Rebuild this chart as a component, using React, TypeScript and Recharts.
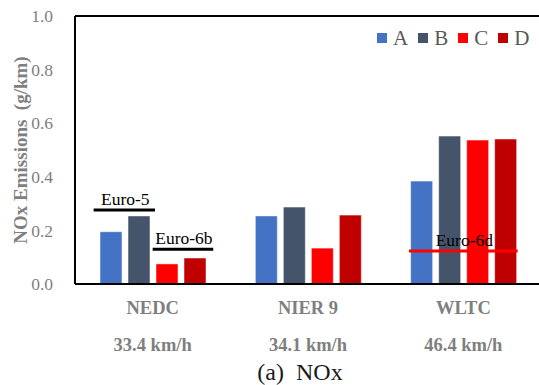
import React from 'react';
import {
  BarChart,
  Bar,
  XAxis,
  YAxis,
  ReferenceLine,
  Legend,
  Label,
} from 'recharts';

// Driving cycles and their average speeds
const cycles = ['NEDC', 'NIER 9', 'WLTC'];
const speeds = ['33.4 km/h', '34.1 km/h', '46.4 km/h'];

// NOx emissions (g/km) per vehicle
const vehicleA = [0.195, 0.254, 0.384];
const vehicleB = [0.254, 0.287, 0.552];
const vehicleC = [0.075, 0.134, 0.537];
const vehicleD = [0.097, 0.257, 0.541];

const yTicks = [0, 0.2, 0.4, 0.6, 0.8, 1.0];

// Emission standard limits: value and extent along the cycle axis (cycle index units)
const limitNames = ['Euro-5', 'Euro-6b', 'Euro-6d'];
const limitValues = [0.276, 0.13, 0.123];
const limitFrom = [0.12, 0.5, 2.15];
const limitTo = [0.515, 0.89, 2.85];
const limitColors = ['#000000', '#000000', '#ff0000'];

const series = [
  { key: 'A', values: vehicleA, color: '#4472C4' },
  { key: 'B', values: vehicleB, color: '#44546A' },
  { key: 'C', values: vehicleC, color: '#FF0000' },
  { key: 'D', values: vehicleD, color: '#C00000' },
];

const data = cycles.map((name, i) => {
  const row: Record<string, string | number> = { name };
  series.forEach((s) => {
    row[s.key] = s.values[i];
  });
  return row;
});

const FONT = '"Liberation Serif", "Times New Roman", serif';
const GRAY = '#7f7f7f';

const CycleTick = (props: any) => {
  const { x, y, payload } = props;
  const idx = cycles.indexOf(payload.value);
  return (
    <g>
      <text
        x={x}
        y={y}
        dy={22}
        textAnchor="middle"
        fontFamily={FONT}
        fontWeight="bold"
        fontSize={18.5}
        fill={GRAY}
      >
        {payload.value}
      </text>
      <text
        x={x}
        y={y}
        dy={59}
        textAnchor="middle"
        fontFamily={FONT}
        fontWeight="bold"
        fontSize={18.5}
        fill={GRAY}
      >
        {speeds[idx]}
      </text>
    </g>
  );
};

// Horizontal limit segment spanning part of the cycle axis, with its name above
const limitShape = (i: number) => (props: any) => {
  const { x1, x2, y1 } = props;
  const span = (x2 - x1) / cycles.length;
  const sx = x1 + span * limitFrom[i];
  const ex = x1 + span * limitTo[i];
  return (
    <g>
      <line
        x1={sx}
        x2={ex}
        y1={y1}
        y2={y1}
        stroke={limitColors[i]}
        strokeWidth={3}
      />
      <text
        x={(sx + ex) / 2 + 1}
        y={y1 - 5}
        textAnchor="middle"
        fontFamily={FONT}
        fontSize={17.5}
        fill="#000"
      >
        {limitNames[i]}
      </text>
    </g>
  );
};

const renderLegend = (props: any) => {
  const { payload } = props;
  return (
    <div style={{ display: 'flex', alignItems: 'center', fontFamily: FONT }}>
      {payload.map((entry: any) => (
        <div
          key={entry.value}
          style={{ display: 'flex', alignItems: 'center', marginRight: 10 }}
        >
          <span
            style={{
              display: 'inline-block',
              width: 10,
              height: 10,
              background: entry.color,
              marginRight: 6,
            }}
          />
          <span style={{ fontSize: 21, color: '#595959', lineHeight: '22px' }}>
            {entry.value}
          </span>
        </div>
      ))}
    </div>
  );
};

export default function App() {
  return (
    <div
      style={{
        position: 'absolute',
        left: 0,
        top: 0,
        width: 539,
        height: 385,
        overflow: 'hidden',
        background: '#fff',
      }}
    >
      <BarChart
        width={545}
        height={385}
        data={data}
        margin={{ top: 16, right: 4, bottom: 6, left: 0 }}
        barSize={22}
        barGap={6}
      >
        <XAxis
          dataKey="name"
          height={95}
          axisLine={{ stroke: '#000', strokeWidth: 2 }}
          tickLine={false}
          tick={<CycleTick />}
          interval={0}
        >
          <Label
            content={(p: any) => {
              const vb = p.viewBox;
              return (
                <text
                  x={vb.x + vb.width / 2 - 8}
                  y={vb.y + 96}
                  textAnchor="middle"
                  fontFamily={FONT}
                  fontSize={24}
                  fill="#1a1a1a"
                  style={{ whiteSpace: 'pre' }}
                >
                  {'(a)  NOx'}
                </text>
              );
            }}
          />
        </XAxis>
        <YAxis
          width={75}
          domain={[0, 1]}
          ticks={yTicks}
          tickFormatter={(v: number) => v.toFixed(1)}
          axisLine={{ stroke: '#000', strokeWidth: 2 }}
          tickLine={false}
          tickMargin={16}
          tick={{ fontFamily: FONT, fontSize: 17.5, fill: GRAY }}
        >
          <Label
            content={(p: any) => {
              const vb = p.viewBox;
              const cy = vb.y + vb.height / 2;
              return (
                <text
                  x={20}
                  y={cy}
                  transform={`rotate(-90, 20, ${cy})`}
                  textAnchor="middle"
                  dominantBaseline="central"
                  fontFamily={FONT}
                  fontWeight="bold"
                  fontSize={19}
                  fill={GRAY}
                  style={{ whiteSpace: 'pre' }}
                >
                  {'NOx Emissions  (g/km)'}
                </text>
              );
            }}
          />
        </YAxis>
        <Legend
          layout="horizontal"
          verticalAlign="middle"
          align="center"
          content={renderLegend}
          wrapperStyle={{ position: 'absolute', top: 27, left: 377, width: 170 }}
        />
        {series.map((s) => (
          <Bar
            key={s.key}
            dataKey={s.key}
            name={s.key}
            fill={s.color}
            stroke="#ffffff"
            strokeOpacity={0.5}
            strokeWidth={1}
            isAnimationActive={false}
          />
        ))}
        <ReferenceLine y={1} stroke="#000" strokeWidth={2} />
        {limitNames.map((name, i) => (
          <ReferenceLine
            key={name}
            y={limitValues[i]}
            shape={limitShape(i)}
          />
        ))}
      </BarChart>
    </div>
  );
}
